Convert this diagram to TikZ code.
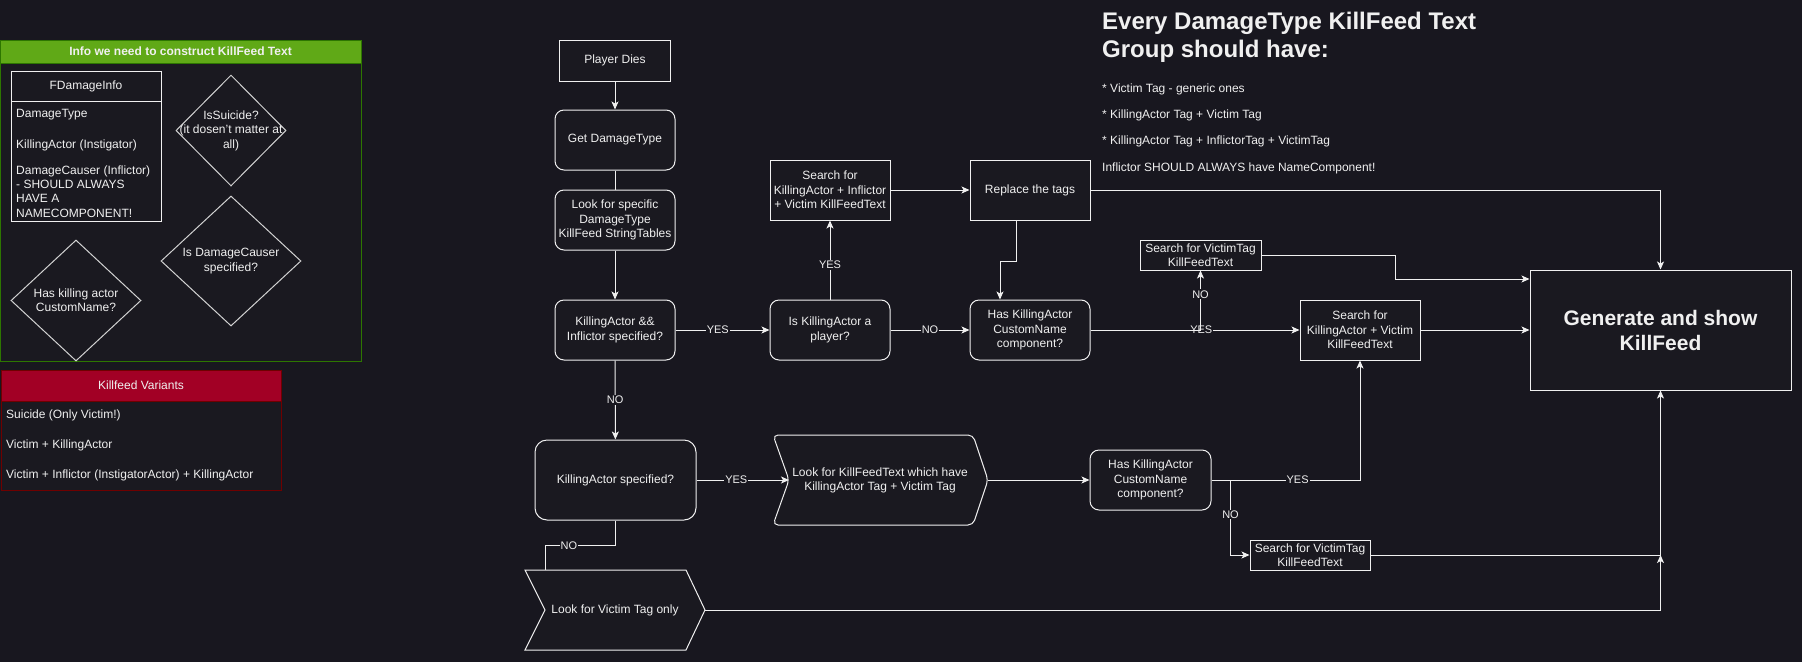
\documentclass[tikz,border=0pt]{standalone}
\usepackage{fontspec}
\setmainfont{Liberation Sans}
\usetikzlibrary{arrows.meta,shapes.geometric,calc}
\definecolor{bg}{RGB}{24,23,31}
\definecolor{nodefill}{RGB}{26,25,32}
\definecolor{fg}{RGB}{240,240,240}
\definecolor{linec}{RGB}{240,240,240}
\definecolor{diac}{RGB}{210,210,210}
\definecolor{grnhead}{RGB}{96,169,23}
\definecolor{grnline}{RGB}{45,118,0}
\definecolor{redhead}{RGB}{162,0,37}
\definecolor{redline}{RGB}{111,0,0}
\begin{document}
\begin{tikzpicture}[x=1pt,y=-1pt,
  every node/.style={text=fg},
  f12/.style={font=\fontsize{12}{14.4}\selectfont},
  box/.style={f12, draw=linec, line width=1pt, fill=nodefill, align=center, inner sep=1pt, minimum width=120pt, minimum height=60pt},
  rbox/.style={box, rounded corners=9pt},
  txt/.style={f12, inner sep=0pt, align=center},
  ltxt/.style={f12, inner sep=0pt, anchor=west, align=left},
  lbl/.style={font=\fontsize{11}{13}\selectfont, fill=bg, inner sep=1pt},
  conn/.style={draw=linec, line width=1pt},
  arr/.style={conn, -{Stealth[length=8pt,width=7pt,inset=2pt]}},
  dia/.style={diamond, draw=diac, line width=1pt, fill=nodefill, inner sep=0pt},
  ttl/.style={font=\bfseries\fontsize{24}{28}\selectfont, inner sep=0pt, anchor=base west},
  bul/.style={f12, inner sep=0pt, anchor=base west},
  ]
\fill[bg] (0,0) rectangle (1802,662);
\useasboundingbox (0,0) rectangle (1802,662);

% ---------- left panel: info container ----------
\fill[nodefill] (0.5,40) rectangle (361,361);
\fill[grnhead] (0.5,40) rectangle (361,63);
\draw[grnline, line width=1pt] (0.5,40) rectangle (361,361);
\draw[grnline, line width=1pt] (0.5,63) -- (361,63);
\node[f12, font=\bfseries\fontsize{12}{14.4}\selectfont, inner sep=0pt] (infoh) at (180.5,51.5) {Info we need to construct KillFeed Text};

\draw[conn, fill=nodefill] (11,71) rectangle (161,221);
\draw[conn] (11,101) -- (161,101);
\node[txt] (fdi) at (86,86) {FDamageInfo};
\node[ltxt] (fdi1) at (16,115) {DamageType};
\node[ltxt] (fdi2) at (16,145) {KillingActor (Instigator)};
\node[ltxt] (fdi3) at (16,191.5) {DamageCauser (Inflictor)\\- SHOULD ALWAYS\\HAVE A\\NAMECOMPONENT!};

\node[dia, minimum width=110pt, minimum height=111pt] (dsui) at (231,130.5) {};
\node[txt] (dsuit) at (dsui) {IsSuicide?\\(it dosen't matter at\\all)};
\node[dia, minimum width=140pt, minimum height=130pt] (ddc) at (231,261) {};
\node[txt] (ddct) at (ddc) {Is DamageCauser\\specified?};
\node[dia, minimum width=130pt, minimum height=121pt] (dcn) at (76,300.5) {};
\node[txt] (dcnt) at (dcn) {Has killing actor\\CustomName?};

% ---------- left panel: killfeed variants ----------
\fill[nodefill] (1,370) rectangle (281,490);
\fill[redhead] (1,370) rectangle (281,401);
\draw[redline, line width=1pt] (1,370) rectangle (281,490);
\draw[redline, line width=1pt] (1,401) -- (281,401);
\node[txt] (kvh) at (141,385.5) {Killfeed Variants};
\node[ltxt] (kv1) at (6,415) {Suicide (Only Victim!)};
\node[ltxt] (kv2) at (6,445) {Victim + KillingActor};
\node[ltxt] (kv3) at (6,475) {Victim + Inflictor (InstigatorActor) + KillingActor};

% ---------- right-top notes ----------
\node[ttl] (t1) at (1102,29) {Every DamageType KillFeed Text};
\node[ttl] (t2) at (1102,57) {Group should have:};
\node[bul] (b1) at (1102,92) {* Victim Tag - generic ones};
\node[bul] (b2) at (1102,118) {* KillingActor Tag + Victim Tag};
\node[bul] (b3) at (1102,144) {* KillingActor Tag + InflictorTag + VictimTag};
\node[bul] (b4) at (1102,171) {Inflictor SHOULD ALWAYS have NameComponent!};

% ---------- flow nodes ----------
\node[box, minimum width=111pt, minimum height=41pt] (pd) at (615,60.5) {Player Dies};
\node[rbox] (gdt) at (615,140) {Get DamageType};
\node[rbox] (lfs) at (615,220) {Look for specific\\DamageType\\KillFeed StringTables};
\node[rbox] (kai) at (615,330) {KillingActor \&\&\\Inflictor specified?};
\node[rbox] (ikp) at (830,330) {Is KillingActor a\\player?};
\node[box] (skiv) at (830,190) {Search for\\KillingActor + Inflictor\\+ Victim KillFeedText};
\node[box] (rtt) at (1030,190) {Replace the tags};
\node[rbox] (hkc1) at (1030,330) {Has KillingActor\\CustomName\\component?};
\node[box, minimum width=121pt, minimum height=30pt] (svt1) at (1200.5,255) {Search for VictimTag\\KillFeedText};
\node[box] (skv) at (1360,330) {Search for\\KillingActor + Victim\\KillFeedText};
\node[box, minimum width=261pt, minimum height=120pt, font=\bfseries\fontsize{21}{25}\selectfont] (gen) at (1660.5,330) {Generate and show\\KillFeed};
\node[rbox, minimum width=161pt, minimum height=80pt, rounded corners=12pt] (kas) at (615.5,480) {KillingActor specified?};
\node[rbox, minimum width=121pt] (hkc2) at (1150.5,480) {Has KillingActor\\CustomName\\component?};
\node[box, minimum height=30pt] (svt2) at (1310,555) {Search for VictimTag\\KillFeedText};

\filldraw[conn, fill=nodefill, rounded corners=5pt] (773,435) -- (973,435) -- (988,480) -- (973,525) -- (773,525) -- (789,480) -- cycle;
\node[txt] (lkt) at (880,480.5) {Look for KillFeedText which have\\KillingActor Tag + Victim Tag};
\coordinate (lktin) at (789,480);
\coordinate (lktout) at (988,480);

\filldraw[conn, fill=nodefill] (525,570) -- (686,570) -- (705,610) -- (686,650) -- (525,650) -- (545,610) -- cycle;
\node[txt] (lvt) at (615,610) {Look for Victim Tag only};
\coordinate (lvttop) at (545,570);
\coordinate (lvtout) at (705,610);

% ---------- connectors ----------
\draw[arr] (pd) -- (gdt);
\draw[conn] (gdt) -- (lfs);
\draw[arr] (lfs) -- (kai);
\draw[arr] (kai) -- node[lbl, pos=0.45]{YES} (ikp);
\draw[arr] (ikp) -- node[lbl, pos=0.44]{YES} (skiv);
\draw[arr] (skiv) -- (rtt);
\draw[arr] (ikp) -- node[lbl]{NO} (hkc1);
\draw[arr] ($(rtt.south)+(-14,0)$) -- ++(0,41) -| ($(hkc1.north)+(-30,0)$);
\draw[arr] (rtt.east) -| (gen.north);
\draw[arr] (hkc1.east) -- node[lbl, pos=0.53]{YES} (skv.west);
\draw[arr] (hkc1.east) -| node[lbl, pos=0.8]{NO} (svt1.south);
\draw[arr] (svt1.east) -- ++(134,0) |- ($(gen.west)+(0,-51)$);
\draw[arr] (skv.east) -- (gen.west);
\draw[arr] (kai) -- node[lbl]{NO} (kas);
\draw[arr] (kas) -- node[lbl, pos=0.43]{YES} (lktin);
\draw[conn] (kas.south) -- ++(0,25) -| node[lbl, pos=0.33]{NO} (lvttop);
\draw[arr] (lktout) -- (hkc2);
\draw[arr] (hkc2.east) -| node[lbl, pos=0.29]{YES} (skv.south);
\draw[arr] ($(hkc2.east)+(19,0)$) |- node[lbl, pos=0.23]{NO} (svt2.west);
\draw[conn] (svt2.east) -- (gen.south |- svt2.east) coordinate (mg);
\draw[arr] (lvtout) -| (gen.south);
\draw[arr] ($(mg)+(0,10)$) -- (mg);
\end{tikzpicture}
\end{document}
